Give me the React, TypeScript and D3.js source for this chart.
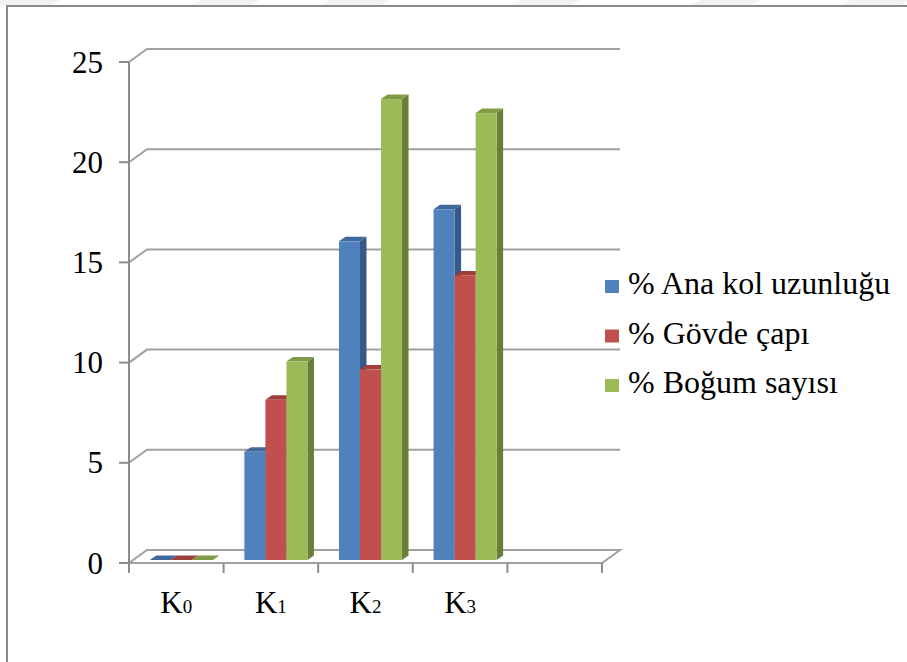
import React from "react";
import * as d3 from "d3";

const categories = ["K0", "K1", "K2", "K3", ""];
const series = ["% Ana kol uzunluğu", "% Gövde çapı", "% Boğum sayısı"];
const anaKol = [0, 5.4, 15.9, 17.5];
const govde = [0, 8.0, 9.5, 14.2];
const bogum = [0, 9.9, 23.0, 22.3];
const yTicks = [0, 5, 10, 15, 20, 25];

const W = 907, H = 662;
const front = ["#4F81BD", "#C0504D", "#9BBB59"];
const topC = ["#41689A", "#9E3F3C", "#7F9B46"];
const sideC = ["#36598A", "#8A3532", "#687F3A"];

const DX = 18, DY = -13; // wall depth
const BX = 6.5, BY = -4.5; // bar depth
const OX = 5, OY = -3; // bar plane offset
const FONT = "Liberation Serif, Tinos, Times New Roman, DejaVu Serif, serif";

export default function App() {
  const x = d3.scaleBand<string>().domain(categories.map((c, i) => String(i))).range([129, 602]).padding(0);
  const y = d3.scaleLinear().domain([0, 25]).range([563, 62]);
  const inner = d3.scaleBand<string>().domain(series).range([0, x.bandwidth() * 2 / 3]);
  const groupOff = (x.bandwidth() - x.bandwidth() * 2 / 3) / 2;
  const data = [anaKol, govde, bogum];
  const gridStroke = "#A0A0A0";
  const xL = x.range()[0], xR = x.range()[1];
  const ts = { fontFamily: FONT };

  const bars: JSX.Element[] = [];
  categories.slice(0, 4).forEach((c, ci) => {
    series.forEach((s, si) => {
      const v = data[si][ci];
      const x0 = (x(String(ci)) as number) + groupOff + (inner(s) as number) + OX;
      const w = inner.bandwidth();
      const yb = y(0) + OY;
      const yt = y(v) + OY;
      bars.push(
        <g key={`${ci}-${si}`}>
          <polygon points={`${x0 + w},${yb} ${x0 + w + BX},${yb + BY} ${x0 + w + BX},${yt + BY} ${x0 + w},${yt}`} fill={sideC[si]} />
          <polygon points={`${x0},${yt} ${x0 + BX},${yt + BY} ${x0 + w + BX},${yt + BY} ${x0 + w},${yt}`} fill={topC[si]} />
          {v > 0 && <rect x={x0} y={yt} width={w} height={yb - yt} fill={front[si]} />}
        </g>
      );
    });
  });

  return (
    <svg width={W} height={H} style={{ position: "absolute", left: 0, top: 0, background: "#fff" }}>
      {[0, 200, 330, 520, 700, 850].map((sx, i) => (
        <polygon key={i} points={`${sx},0 ${sx + 60},0 ${sx + 50},6 ${sx - 10},6`} fill="#f2f2f2" />
      ))}
      <path d={`M7,${H} V6 H${W}`} fill="none" stroke="#8a8a8a" strokeWidth={2} />
      {yTicks.filter(t => t > 0).map(t => (
        <path key={t} d={`M${xL},${y(t)} L${xL + DX},${y(t) + DY} H${xR + DX}`} fill="none" stroke={gridStroke} strokeWidth={2} />
      ))}
      <path d={`M${xL},${y(0)} L${xL + DX},${y(0) + DY} H${xR + DX} L${xR},${y(0)} Z`} fill="none" stroke={gridStroke} strokeWidth={2} />
      <line x1={xL} x2={xL} y1={y(25)} y2={y(0) + 9} stroke="#8C8C8C" strokeWidth={2} />
      {yTicks.map(t => (
        <g key={t}>
          <line x1={xL - 10} x2={xL} y1={y(t)} y2={y(t)} stroke="#8C8C8C" strokeWidth={2} />
          <text x={103} y={y(t) + 10.5} textAnchor="end" fontSize={31} fill="#000" style={ts}>{t}</text>
        </g>
      ))}
      {d3.range(categories.length + 1).map(i => {
        const tx = xL + i * x.bandwidth();
        return <line key={i} x1={tx} x2={tx} y1={y(0)} y2={y(0) + 10} stroke="#8C8C8C" strokeWidth={2} />;
      })}
      {categories.map((c, i) => c ? (
        <text key={i} x={(x(String(i)) as number) + x.bandwidth() / 2} y={613} textAnchor="middle" fontSize={31} fill="#000" style={ts}>
          {c[0]}<tspan fontSize={19}>{c.slice(1)}</tspan>
        </text>
      ) : null)}
      {bars}
      {series.map((s, i) => (
        <g key={s} transform={`translate(605, ${294 + i * 49.5})`}>
          <rect x={0} y={-14} width={14} height={13} fill={front[i]} />
          <text x={23} y={0} fontSize={32} fill="#000" style={ts}>{s}</text>
        </g>
      ))}
    </svg>
  );
}
